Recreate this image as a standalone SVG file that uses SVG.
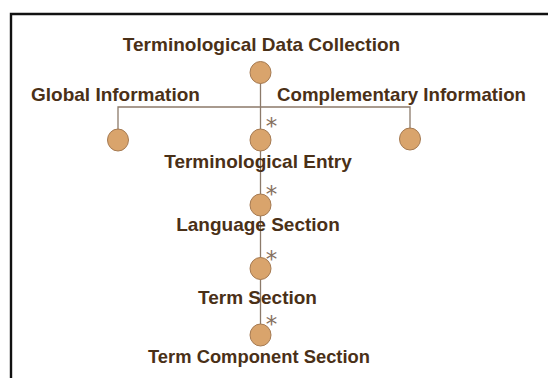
<svg xmlns="http://www.w3.org/2000/svg" width="548" height="378" viewBox="0 0 548 378">
<style>
.lbl{font-family:"Liberation Sans",Arial,sans-serif;font-weight:bold;font-size:19px;fill:#4a3017}
.ast{font-family:"DejaVu Sans",sans-serif;font-size:23px;fill:#86705e;text-anchor:middle}
.node ellipse{fill:#d9a46c;stroke:#a57a52;stroke-width:1}
.conn{fill:none;stroke:#8c7a6a;stroke-width:1.3}
</style>
<rect x="0" y="0" width="548" height="378" fill="#ffffff"/>
<path d="M11,378 V14 H548" fill="none" stroke="#111" stroke-width="2.4"/>
<g id="connectors">
<path class="conn" d="M260.5,72 V335"/>
<path class="conn" d="M118,140 V107 H410 V139"/>
<text class="ast" x="271.5" y="134">*</text>
<text class="ast" x="271.5" y="202">*</text>
<text class="ast" x="271.5" y="267">*</text>
<text class="ast" x="271.5" y="332">*</text>
</g>
<g id="terminological-data-collection" class="node">
<ellipse cx="260.5" cy="72.5" rx="10.5" ry="11"/>
<text class="lbl" x="261.5" y="51" text-anchor="middle">Terminological Data Collection</text>
</g>
<g id="global-information" class="node">
<ellipse cx="118" cy="140" rx="10.5" ry="11"/>
<text class="lbl" x="31" y="101">Global Information</text>
</g>
<g id="complementary-information" class="node">
<ellipse cx="410" cy="139" rx="10.5" ry="11"/>
<text class="lbl" x="277" y="101" textLength="249" lengthAdjust="spacingAndGlyphs">Complementary Information</text>
</g>
<g id="terminological-entry" class="node">
<ellipse cx="260.5" cy="140" rx="10.5" ry="11"/>
<text class="lbl" x="258" y="168" text-anchor="middle">Terminological Entry</text>
</g>
<g id="language-section" class="node">
<ellipse cx="260.5" cy="205" rx="10.5" ry="11"/>
<text class="lbl" x="258" y="231" text-anchor="middle">Language Section</text>
</g>
<g id="term-section" class="node">
<ellipse cx="260.5" cy="268.5" rx="10.5" ry="11"/>
<text class="lbl" x="257.5" y="304" text-anchor="middle">Term Section</text>
</g>
<g id="term-component-section" class="node">
<ellipse cx="260.5" cy="335" rx="10.5" ry="11"/>
<text class="lbl" x="259" y="363" text-anchor="middle" textLength="222" lengthAdjust="spacingAndGlyphs">Term Component Section</text>
</g>
</svg>
